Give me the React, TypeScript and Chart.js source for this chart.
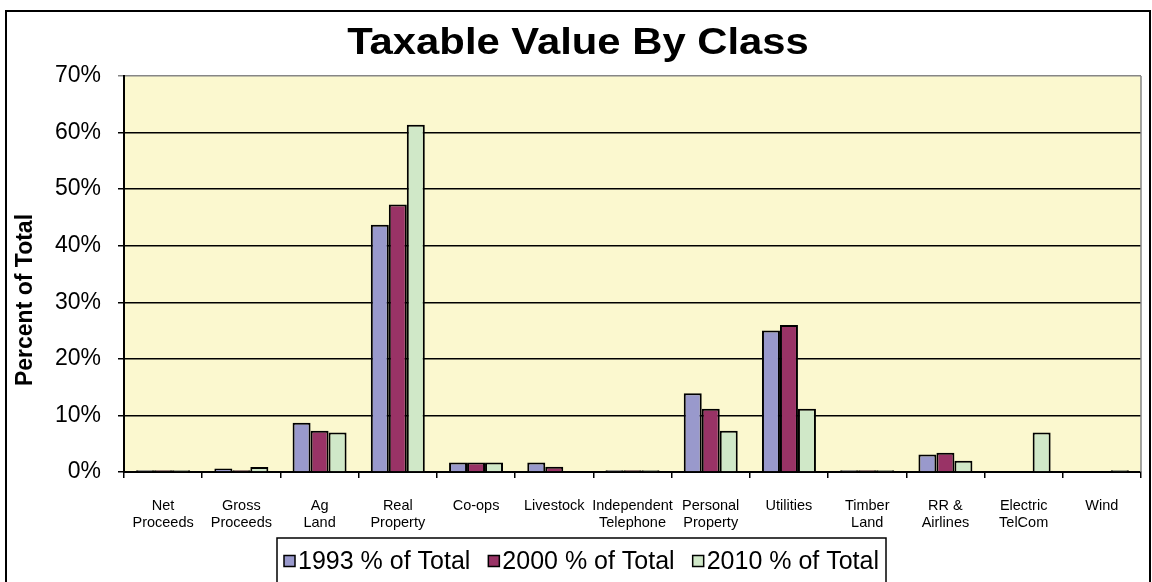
import React, { useEffect, useRef } from "react";
import { Chart, registerables } from "chart.js";

Chart.register(...registerables);

const categories: (string | string[])[] = [
  ["Net", "Proceeds"],
  ["Gross", "Proceeds"],
  ["Ag", "Land"],
  ["Real", "Property"],
  "Co-ops",
  "Livestock",
  ["Independent", "Telephone"],
  ["Personal", "Property"],
  "Utilities",
  ["Timber", "Land"],
  ["RR &", "Airlines"],
  ["Electric", "TelCom"],
  "Wind",
];

const seriesNames = ["1993 % of Total", "2000 % of Total", "2010 % of Total"];

const values1993: (number | null)[] = [0.3, 0.6, 8.7, 43.7, 1.7, 1.7, 0.3, 13.9, 25.0, 0.3, 3.1, null, null];
const values2000: (number | null)[] = [0.3, 0.3, 7.3, 47.3, 1.7, 0.95, 0.3, 11.2, 26.0, 0.3, 3.4, null, null];
const values2010: (number | null)[] = [0.3, 0.9, 7.0, 61.4, 1.7, null, 0.3, 7.3, 11.2, 0.3, 2.0, 7.0, 0.3];

const yTicks = [0, 10, 20, 30, 40, 50, 60, 70];

const colors = ["#9999cc", "#993366", "#d0e8c8"];
const FONT = "'Liberation Sans', Arial, sans-serif";

const decorPlugin = {
  id: "decor",
  beforeDraw(chart: any) {
    const { ctx, chartArea } = chart;
    ctx.save();
    ctx.fillStyle = "#ffffff";
    ctx.fillRect(0, 0, chart.width, chart.height);
    ctx.fillStyle = "#fbf8cf";
    ctx.fillRect(chartArea.left, chartArea.top, chartArea.right - chartArea.left, chartArea.bottom - chartArea.top);
    ctx.restore();
  },
  afterDraw(chart: any) {
    const { ctx, chartArea } = chart;
    ctx.save();
    // plot area right border
    ctx.strokeStyle = "#868686";
    ctx.lineWidth = 1.5;
    ctx.beginPath();
    ctx.moveTo(chartArea.right, chartArea.top);
    ctx.lineTo(chartArea.right, chartArea.bottom);
    ctx.stroke();

    // outer border
    ctx.strokeStyle = "#000";
    ctx.lineWidth = 2;
    ctx.strokeRect(6, 11, 1144, 620);

    // title
    ctx.fillStyle = "#000";
    ctx.save();
    ctx.translate(578, 44);
    ctx.scale(1.13, 1);
    ctx.font = `bold 37px ${FONT}`;
    ctx.textAlign = "center";
    ctx.textBaseline = "middle";
    ctx.fillText("Taxable Value By Class", 0, 0);
    ctx.restore();

    // y title
    ctx.save();
    ctx.translate(26, 300);
    ctx.rotate(-Math.PI / 2);
    ctx.font = `bold 23px ${FONT}`;
    ctx.textAlign = "center";
    ctx.textBaseline = "middle";
    ctx.fillText("Percent of Total", 0, 0);
    ctx.restore();

    // legend
    const boxL = 277, boxR = 886, boxT = 538;
    ctx.lineWidth = 1.5;
    ctx.strokeStyle = "#000";
    ctx.strokeRect(boxL, boxT, boxR - boxL, 100);
    ctx.font = `25px ${FONT}`;
    ctx.textAlign = "left";
    ctx.textBaseline = "middle";
    const sq = 11, gap = 3, spacing = 18;
    const items = chart.data.datasets.map((d: any) => ({ label: d.label, color: d.backgroundColor }));
    const widths = items.map((it: any) => sq + gap + ctx.measureText(it.label).width);
    let x = boxL + 7;
    const cy = 561;
    items.forEach((it: any, i: number) => {
      ctx.fillStyle = it.color;
      ctx.fillRect(x, cy - sq / 2, sq, sq);
      ctx.strokeStyle = "#000";
      ctx.lineWidth = 1.5;
      ctx.strokeRect(x, cy - sq / 2, sq, sq);
      ctx.fillStyle = "#000";
      ctx.fillText(it.label, x + sq + gap, cy + 1);
      x += widths[i] + spacing;
    });
    ctx.restore();
  },
};

export default function App() {
  const ref = useRef<HTMLCanvasElement | null>(null);
  useEffect(() => {
    if (!ref.current) return;
    const series = [values1993, values2000, values2010];
    const chart = new Chart(ref.current, {
      type: "bar",
      data: {
        labels: categories,
        datasets: series.map((vals, i) => ({
          label: seriesNames[i],
          data: vals,
          backgroundColor: colors[i],
          borderColor: "#000",
          borderWidth: 2,
          categoryPercentage: 0.69,
          barPercentage: 1.0,
        })),
      },
      options: {
        animation: false,
        responsive: false,
        devicePixelRatio: 1,
        layout: { padding: { left: 0, top: 76, right: 11, bottom: 0 } },
        plugins: {
          legend: { display: false },
          title: { display: false },
          tooltip: { enabled: false },
        },
        scales: {
          x: {
            afterFit: (scale: any) => {
              scale.height = 110;
            },
            grid: {
              offset: true,
              drawOnChartArea: false,
              drawTicks: true,
              tickLength: 6,
              color: "#000",
              lineWidth: 1.5,
            },
            border: { color: "#000", width: 2 },
            ticks: {
              color: "#000",
              padding: 20,
              maxRotation: 0,
              autoSkip: false,
              font: { family: FONT, size: 14.5, lineHeight: 1.17 },
            },
          },
          y: {
            min: 0,
            max: 70,
            afterFit: (scale: any) => {
              scale.width = 124;
            },
            afterBuildTicks: (scale: any) => {
              scale.ticks = yTicks.map((v) => ({ value: v }));
            },
            grid: {
              color: (c: any) => (c.tick && c.tick.value === 70 ? "#868686" : "#000"),
              lineWidth: 1.5,
              tickLength: 6,
              drawTicks: true,
            },
            border: { color: "#000", width: 2 },
            ticks: {
              color: "#000",
              padding: 17,
              font: { family: FONT, size: 23 },
              callback: (v: any) => `${v}%`,
            },
          },
        },
      },
      plugins: [decorPlugin],
    });
    return () => chart.destroy();
  }, []);
  return (
    <div style={{ position: "fixed", left: 0, top: 0, width: 1152, height: 582 }}>
      <canvas ref={ref} width={1152} height={582} />
    </div>
  );
}
